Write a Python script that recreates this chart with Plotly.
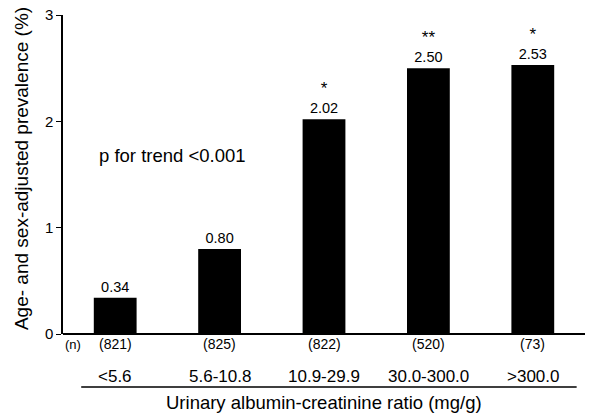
import plotly.graph_objects as go

categories = ["<5.6", "5.6-10.8", "10.9-29.9", "30.0-300.0", ">300.0"]
prevalence = [0.34, 0.80, 2.02, 2.50, 2.53]
value_labels = ["0.34", "0.80", "2.02", "2.50", "2.53"]
significance = ["", "", "*", "**", "*"]
counts = ["(821)", "(825)", "(822)", "(520)", "(73)"]
y_ticks = [0, 1, 2, 3]

FONT = "Liberation Sans, Arial, sans-serif"
xpos = list(range(len(categories)))

bar_text = [f"<span style='font-size:17px'>{s}</span><br>{v}" if s else v
            for s, v in zip(significance, value_labels)]

fig = go.Figure()
fig.add_trace(go.Bar(
    x=xpos, y=prevalence, width=0.41,
    marker=dict(color="black", line=dict(width=0)),
    text=bar_text,
    textposition="outside", cliponaxis=False,
    textfont=dict(family=FONT, size=14.5, color="black"),
    hoverinfo="skip",
))

annotations = []
for i, c in enumerate(counts):
    annotations.append(dict(x=i, y=0, xref="x", yref="y", text=c, showarrow=False,
                            yshift=-10, font=dict(family=FONT, size=14, color="black")))
for i, c in enumerate(categories):
    annotations.append(dict(x=i, y=0, xref="x", yref="y", text=c, showarrow=False,
                            yshift=-42, font=dict(family=FONT, size=17, color="black")))
annotations.append(dict(x=-0.404, y=0, xref="x", yref="y", text="(n)", showarrow=False,
                        yshift=-10, font=dict(family=FONT, size=13, color="black")))
annotations.append(dict(x=0.5, y=0, xref="paper", yref="y", yshift=-68,
                        text="Urinary albumin-creatinine ratio (mg/g)", showarrow=False,
                        font=dict(family=FONT, size=18.5, color="black")))
annotations.append(dict(x=-0.174, y=1.683, xref="x", yref="y", xanchor="left",
                        text="p for trend <0.001", showarrow=False,
                        font=dict(family=FONT, size=18.5, color="black")))
annotations.append(dict(x=0, y=0.517, xref="paper", yref="paper", xshift=-42,
                        xanchor="center", yanchor="middle",
                        textangle=-90, showarrow=False,
                        text="Age- and sex-adjusted prevalence (%)",
                        font=dict(family=FONT, size=19, color="black")))
# underline beneath the category labels, drawn as an arrow-less connector
annotations.append(dict(x=4.42, y=0, xref="x", yref="y",
                        ax=-0.34, ay=0, axref="x", ayref="y", yshift=-53,
                        text="", showarrow=True, arrowhead=0, arrowwidth=1.5,
                        arrowcolor="black", standoff=0, startstandoff=0))

fig.update_layout(
    width=600, height=413,
    margin=dict(l=63, r=15, t=15, b=79, autoexpand=False),
    paper_bgcolor="white", plot_bgcolor="white",
    showlegend=False,
    annotations=annotations,
    xaxis=dict(range=[-0.5, 4.5], showticklabels=False, ticks="", showgrid=False,
               zeroline=False, showline=False, fixedrange=True, automargin=False),
    yaxis=dict(range=[0, 3], tickvals=y_ticks, ticks="outside", ticklen=5,
               tickcolor="black", showline=True, linecolor="black", linewidth=1.5,
               showgrid=False, zeroline=True, zerolinecolor="black", zerolinewidth=1.5,
               tickfont=dict(family=FONT, size=15, color="black"), automargin=False),
)

fig.write_html("out.html", config={"displayModeBar": False},
               post_script="document.body.style.margin='0';")
